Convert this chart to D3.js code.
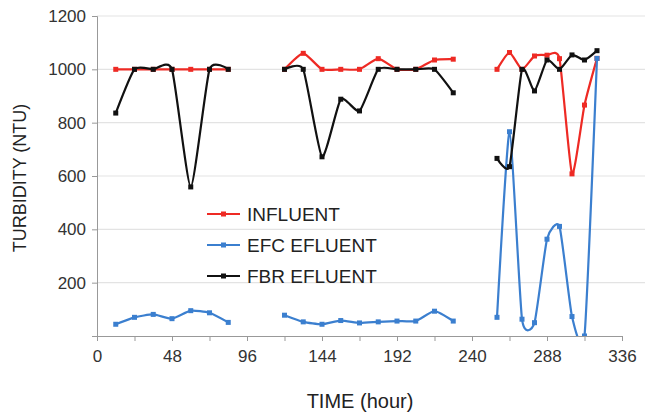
<!DOCTYPE html>
<html>
<head>
<meta charset="utf-8">
<script src="https://cdn.jsdelivr.net/npm/d3@7"></script>
<style>
  body { margin: 0; background: #fff; }
  text { font-family: "Liberation Sans", Arial, sans-serif; fill: #222; }
</style>
</head>
<body>
<script>
const width = 649
const height = 414

// sampling times (hours), one array per run
const hoursRun1 = [12, 24, 36, 48, 60, 72, 84]
const hoursRun2 = [120, 132, 144, 156, 168, 180, 192, 204, 216, 228]
const hoursRun3 = [256, 264, 272, 280, 288, 296, 304, 312, 320]

// turbidity values (NTU)
const influent1 = [1000, 1000, 1000, 1000, 1000, 1000, 1000]
const influent2 = [1000, 1060, 1000, 1000, 1000, 1040, 1000, 1000, 1035, 1038]
const influent3 = [1000, 1063, 1000, 1050, 1053, 1040, 608, 866, 1041]

const efc1 = [44, 70, 81, 65, 95, 87, 51]
const efc2 = [78, 53, 44, 58, 49, 53, 56, 56, 93, 56]
const efc3 = [70, 766, 63, 50, 363, 411, 73, 0, 1041]

const fbr1 = [836, 1000, 1000, 1000, 559, 1000, 1000]
const fbr2 = [1000, 1000, 672, 888, 844, 1000, 1000, 1000, 1000, 912]
const fbr3 = [666, 635, 1000, 919, 1035, 1000, 1054, 1035, 1070]

const yTicks = [200, 400, 600, 800, 1000, 1200]
const xTicks = [0, 24, 48, 72, 96, 120, 144, 168, 192, 216, 240, 264, 288, 312, 336]
const xLabels = [0, 48, 96, 144, 192, 240, 288, 336]

const runs = [hoursRun1, hoursRun2, hoursRun3]
const series = [
  { name: 'INFLUENT', color: '#ee2a24', runs: [influent1, influent2, influent3] },
  { name: 'EFC EFLUENT', color: '#3b7fcf', runs: [efc1, efc2, efc3] },
  { name: 'FBR EFLUENT', color: '#111111', runs: [fbr1, fbr2, fbr3] }
]

const x = d3.scaleLinear().domain([0, 336]).range([97, 622])
const y = d3.scaleLinear().domain([0, 1200]).range([336, 16])

const svg = d3.select('body').append('svg')
  .attr('width', width)
  .attr('height', height)

svg.append('clipPath').attr('id', 'plot')
  .append('rect')
  .attr('x', 97).attr('y', 0)
  .attr('width', 552).attr('height', 336)

// gridlines
svg.append('g')
  .selectAll('line')
  .data(yTicks)
  .enter().append('line')
  .attr('x1', 97).attr('x2', 645)
  .attr('y1', d => y(d)).attr('y2', d => y(d))
  .style('stroke', '#e3e3e3')
  .style('stroke-width', 1.2)

// y axis
const yAxis = svg.append('g')
  .attr('transform', `translate(${x(0)},0)`)
  .call(d3.axisLeft(y).tickValues([0, ...yTicks]).tickSize(5).tickPadding(6)
    .tickFormat(d => d === 0 ? '' : d))
yAxis.select('.domain').style('stroke', '#999')
yAxis.selectAll('.tick line').style('stroke', '#999')
yAxis.selectAll('text').style('font-size', '17px').style('fill', '#333')
  .style('font-family', '"Liberation Sans", Arial, sans-serif')

// x axis
const xAxis = svg.append('g')
  .attr('transform', `translate(0,${y(0)})`)
  .call(d3.axisBottom(x).tickValues(xTicks).tickSize(5).tickPadding(9).tickSizeOuter(0)
    .tickFormat(d => xLabels.includes(d) ? d : ''))
xAxis.select('.domain').style('stroke', '#999')
xAxis.selectAll('.tick line').style('stroke', '#999')
xAxis.selectAll('text').style('font-size', '17px').style('fill', '#333')
  .style('font-family', '"Liberation Sans", Arial, sans-serif')

// axis titles
svg.append('text')
  .attr('x', 360).attr('y', 408)
  .attr('text-anchor', 'middle')
  .style('font-size', '20px')
  .text('TIME (hour)')

svg.append('text')
  .attr('transform', 'translate(26,178) rotate(-90)')
  .attr('text-anchor', 'middle')
  .style('font-size', '18px')
  .text('TURBIDITY (NTU)')

const line = d3.line()
  .x(d => x(d[0]))
  .y(d => y(d[1]))
  .curve(d3.curveCardinal.tension(0.45))

series.forEach(s => {
  const g = svg.append('g').attr('clip-path', 'url(#plot)')
  s.runs.forEach((vals, i) => {
    const pts = runs[i].map((h, k) => [h, vals[k]])
    g.append('path')
      .attr('d', line(pts))
      .style('fill', 'none')
      .style('stroke', s.color)
      .style('stroke-width', 2.2)
    g.selectAll(null)
      .data(pts)
      .enter().append('rect')
      .attr('x', d => x(d[0]) - 2.5)
      .attr('y', d => y(d[1]) - 2.5)
      .attr('width', 5).attr('height', 5)
      .style('fill', s.color)
  })
})

// legend
const legend = svg.append('g')
  .selectAll('g')
  .data(series)
  .enter().append('g')
  .attr('transform', (d, i) => `translate(207,${214 + i * 31})`)

legend.append('line')
  .attr('x1', 0).attr('x2', 33)
  .style('stroke', d => d.color)
  .style('stroke-width', 2.2)
legend.append('rect')
  .attr('x', 14).attr('y', -2.5)
  .attr('width', 5).attr('height', 5)
  .style('fill', d => d.color)
legend.append('text')
  .attr('x', 40).attr('dy', '0.36em')
  .style('font-size', '19px')
  .text(d => d.name)
</script>
</body>
</html>
